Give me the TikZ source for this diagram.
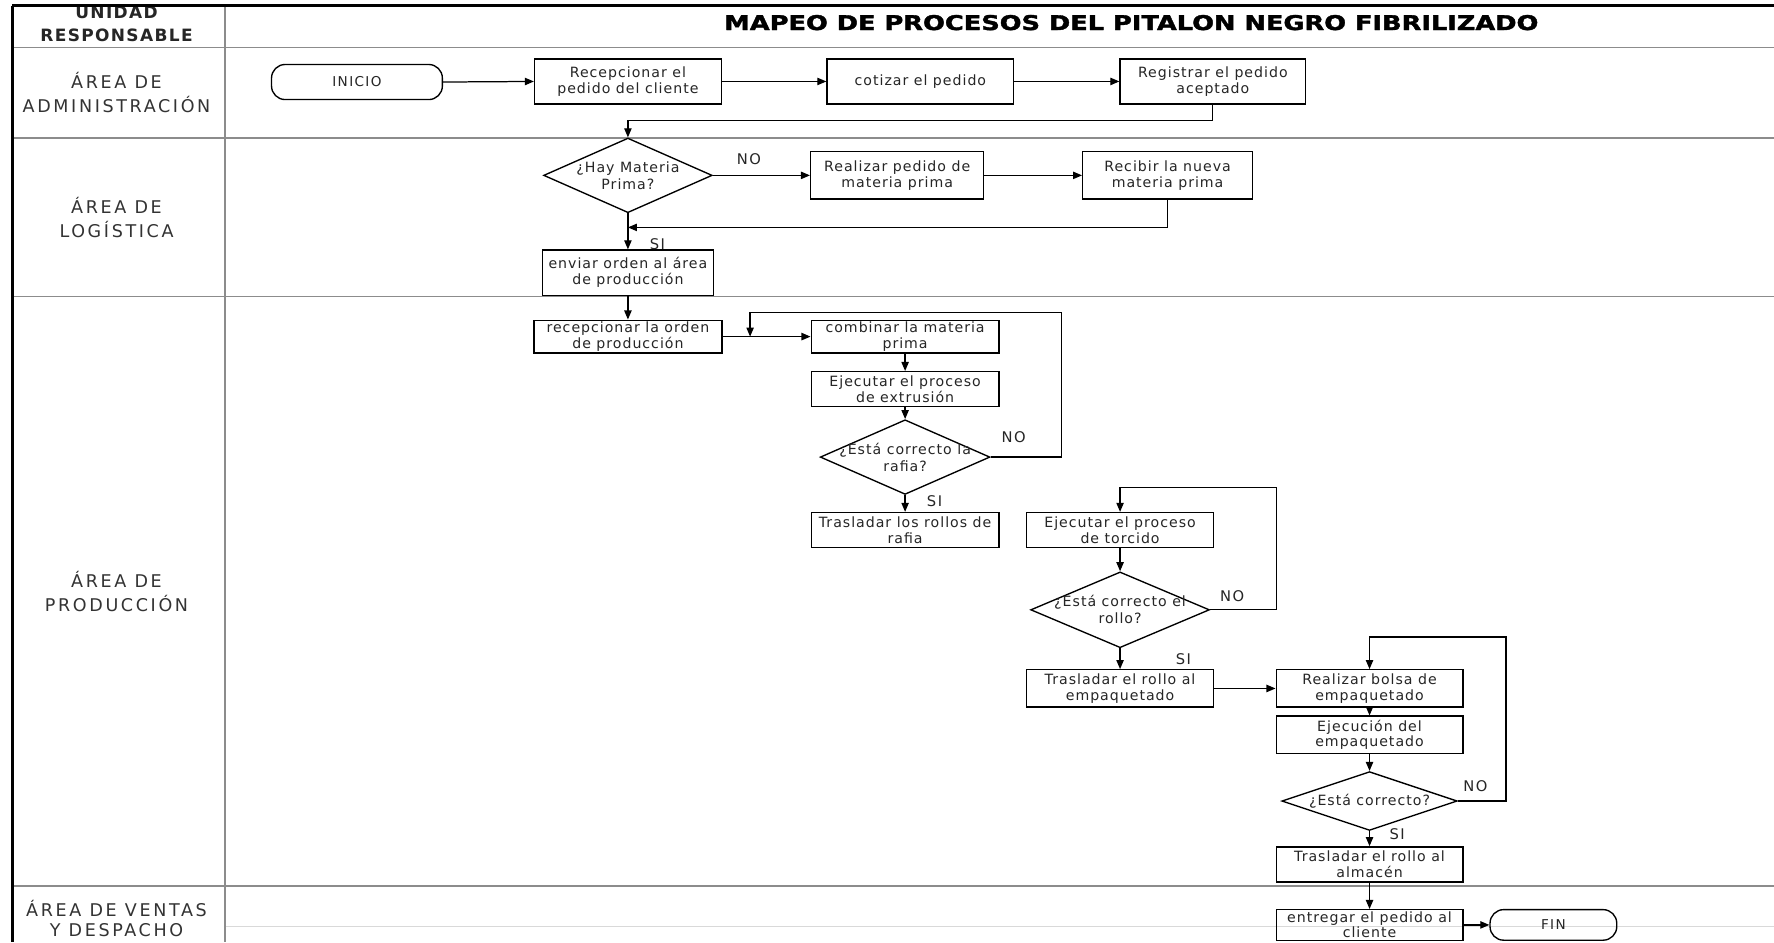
\documentclass[tikz,border=0pt]{standalone}
\usepackage{fontspec}
\setmainfont{DejaVu Sans}
\newfontfamily\boxfont[LetterSpace=7]{DejaVu Sans}
\newfontfamily\lanefont[LetterSpace=15]{DejaVu Sans}
\newfontfamily\tagfont[LetterSpace=10]{DejaVu Sans}
\newfontfamily\headfont[LetterSpace=8]{DejaVu Sans}
\newfontfamily\titlefont[BoldFeatures={FakeBold=1.6}]{DejaVu Sans}
\usetikzlibrary{shapes.geometric,arrows.meta}

\tikzset{
  sz/.style n args={2}{minimum width=#1pt,minimum height=#2pt},
  lane/.style={draw=black!45,line width=1.6pt},
  frame/.style={draw=black,line width=2.8pt},
  stepbox/.style={draw,line width=1.2pt,rectangle,align=center,inner sep=0pt,
    font=\boxfont\fontsize{12.5}{14}\selectfont,text=black!85},
  term/.style={draw,line width=1.2pt,rectangle,rounded corners=12pt,inner sep=0pt,
    font=\tagfont\fontsize{12}{14}\selectfont,text=black!85},
  decision/.style={draw,line width=1.2pt,diamond,inner sep=0pt},
  dlabel/.style={align=center,inner sep=0pt,
    font=\boxfont\fontsize{12.5}{15}\selectfont,text=black!85},
  flow/.style={line width=1.1pt,-{Triangle[length=8pt,width=6.5pt]}},
  tag/.style={font=\tagfont\fontsize{13}{15}\selectfont,text=black!85},
  lanelabel/.style={align=center,font=\lanefont\fontsize{15.5}{21}\selectfont,text=black!80},
}

\begin{document}
\begin{tikzpicture}[x=1pt,y=-1pt]
\useasboundingbox (0,0) rectangle (1568,833);
\fill[white] (0,0) rectangle (1568,833);

% ---- swimlane grid ----
\draw[black!15,line width=0.8pt] (199,819) -- (1568,819);
\draw[lane] (199,5) -- (199,833);
\draw[lane] (11,42) -- (1568,42);
\draw[lane] (11,122) -- (1568,122);
\draw[lane] (11,262) -- (1568,262);
\draw[lane] (11,783) -- (1568,783);

% ---- lane headings ----
\node[align=center,font=\headfont\bfseries\fontsize{15}{20}\selectfont,text=black!85]
  (unidad) at (103,21) {UNIDAD\\RESPONSABLE};
\node[font=\titlefont\bfseries\fontsize{18}{18}\selectfont] (title) at (1000,20)
  {\scalebox{1.26}[1]{MAPEO DE PROCESOS DEL PITALON NEGRO FIBRILIZADO}};
\node[lanelabel] (lAdmin) at (103,82)  {ÁREA DE\\ADMINISTRACIÓN};
\node[lanelabel] (lLog)   at (103,192) {ÁREA DE\\LOGÍSTICA};
\node[lanelabel] (lProd)  at (103,523) {ÁREA DE\\PRODUCCIÓN};
\node[lanelabel,font=\lanefont\fontsize{15.5}{18}\selectfont] (lVent) at (103,812) {ÁREA DE VENTAS\\Y DESPACHO};

% outer frame
\fill[white] (0,0) rectangle (1568,4);
\draw[frame] (11,5) -- (1568,5);
\draw[frame] (11,5) -- (11,833);

% ---- administration ----
\node[term,sz={151}{31}] (inicio) at (315.5,72.5) {INICIO};
\node[stepbox,sz={165}{40}] (recep) at (555,72) {Recepcionar el\\pedido del cliente};
\node[stepbox,sz={165}{40}] (cotizar) at (813.5,72) {cotizar el pedido};
\node[stepbox,sz={164}{40}] (registrar) at (1072,72) {Registrar el pedido\\aceptado};

% ---- logistics ----
\node[decision,sz={149}{66},label={[dlabel]center:{¿Hay Materia\\Prima?}}] (hay) at (555,155) {};
\node[stepbox,sz={153}{42}] (pedidoMP) at (793,155) {Realizar pedido de\\materia prima};
\node[stepbox,sz={150}{42}] (recibir) at (1032,155) {Recibir la nueva\\materia prima};
\node[stepbox,sz={151}{40}] (enviar) at (555,241) {enviar orden al área\\de producción};
\coordinate (j1) at (555,201);

% ---- production ----
\node[stepbox,sz={166}{29}] (recepOrden) at (555,297.5) {recepcionar la orden\\de producción};
\node[stepbox,sz={166}{29}] (combinar) at (800,297.5) {combinar la materia\\prima};
\node[stepbox,sz={166}{31}] (extrusion) at (800,344) {Ejecutar el proceso\\de extrusión};
\node[decision,sz={150}{66},label={[dlabel]center:{¿Está correcto la\\rafia?}}] (dec1) at (800,404) {};
\node[stepbox,sz={166}{31}] (rafia) at (800,468.5) {Trasladar los rollos de\\rafia};
\coordinate (j2) at (663,297.5);
\coordinate (k1) at (938,276);

\node[stepbox,sz={165}{31}] (torcido) at (990,468.5) {Ejecutar el proceso\\de torcido};
\node[decision,sz={158}{67},label={[dlabel]center:{¿Está correcto el\\rollo?}}] (dec2) at (990,539) {};
\node[stepbox,sz={165}{33}] (empaq) at (990,608.5) {Trasladar el rollo al\\empaquetado};
\coordinate (k2) at (1128,431);

\node[stepbox,sz={165}{33}] (bolsa) at (1210.5,608.5) {Realizar bolsa de\\empaquetado};
\node[stepbox,sz={165}{33}] (ejecucion) at (1210.5,649.5) {Ejecución del\\empaquetado};
\node[decision,sz={155}{52},label={[dlabel]center:{¿Está correcto?}}] (dec3) at (1210.5,708) {};
\node[stepbox,sz={165}{31}] (almacen) at (1210.5,764) {Trasladar el rollo al\\almacén};
\coordinate (k3) at (1331,563);

% ---- sales and dispatch ----
\node[stepbox,sz={165}{27},font=\boxfont\fontsize{12.5}{13}\selectfont] (entregar) at (1210.5,817.5) {entregar el pedido al\\cliente};
\node[term,sz={112}{27}] (fin) at (1373,817.5) {FIN};

% ---- branch tags ----
\node[tag] (no1) at (662,141) {NO};
\node[tag] (si1) at (581,216) {SI};
\node[tag] (no2) at (896,386) {NO};
\node[tag] (si2) at (826,443) {SI};
\node[tag] (no3) at (1089,527) {NO};
\node[tag] (si3) at (1046,583) {SI};
\node[tag] (no4) at (1304,695) {NO};
\node[tag] (si4) at (1235,737) {SI};

% ---- connectors ----
\draw[flow] (inicio.east) -- (recep.west);
\draw[flow] (recep.east) -- (cotizar.west);
\draw[flow] (cotizar.east) -- (registrar.west);
\draw[flow] (registrar.south) -- ++(0,14) -| (hay.north);
\draw[flow] (hay.east) -- (pedidoMP.west);
\draw[flow] (pedidoMP.east) -- (recibir.west);
\draw[flow] (recibir.south) |- (j1);
\draw[flow] (hay.south) -- (enviar.north);
\draw[flow] (enviar.south) -- (recepOrden.north);
\draw[flow] (recepOrden.east) -- (combinar.west);
\draw[flow] (combinar.south) -- (extrusion.north);
\draw[flow] (extrusion.south) -- (dec1.north);
\draw[flow] (dec1.south) -- (rafia.north);
\draw[flow] (dec1.east) -| (k1) -| (j2);
\draw[flow] (torcido.south) -- (dec2.north);
\draw[flow] (dec2.south) -- (empaq.north);
\draw[flow] (dec2.east) -| (k2) -| (torcido.north);
\draw[flow] (empaq.east) -- (bolsa.west);
\draw[flow] (bolsa.south) -- (ejecucion.north);
\draw[flow] (ejecucion.south) -- (dec3.north);
\draw[flow] (dec3.south) -- (almacen.north);
\draw[flow] (dec3.east) -| (k3) -| (bolsa.north);
\draw[flow] (almacen.south) -- (entregar.north);
\draw[flow] (entregar.east) -- (fin.west);
\end{tikzpicture}
\end{document}
